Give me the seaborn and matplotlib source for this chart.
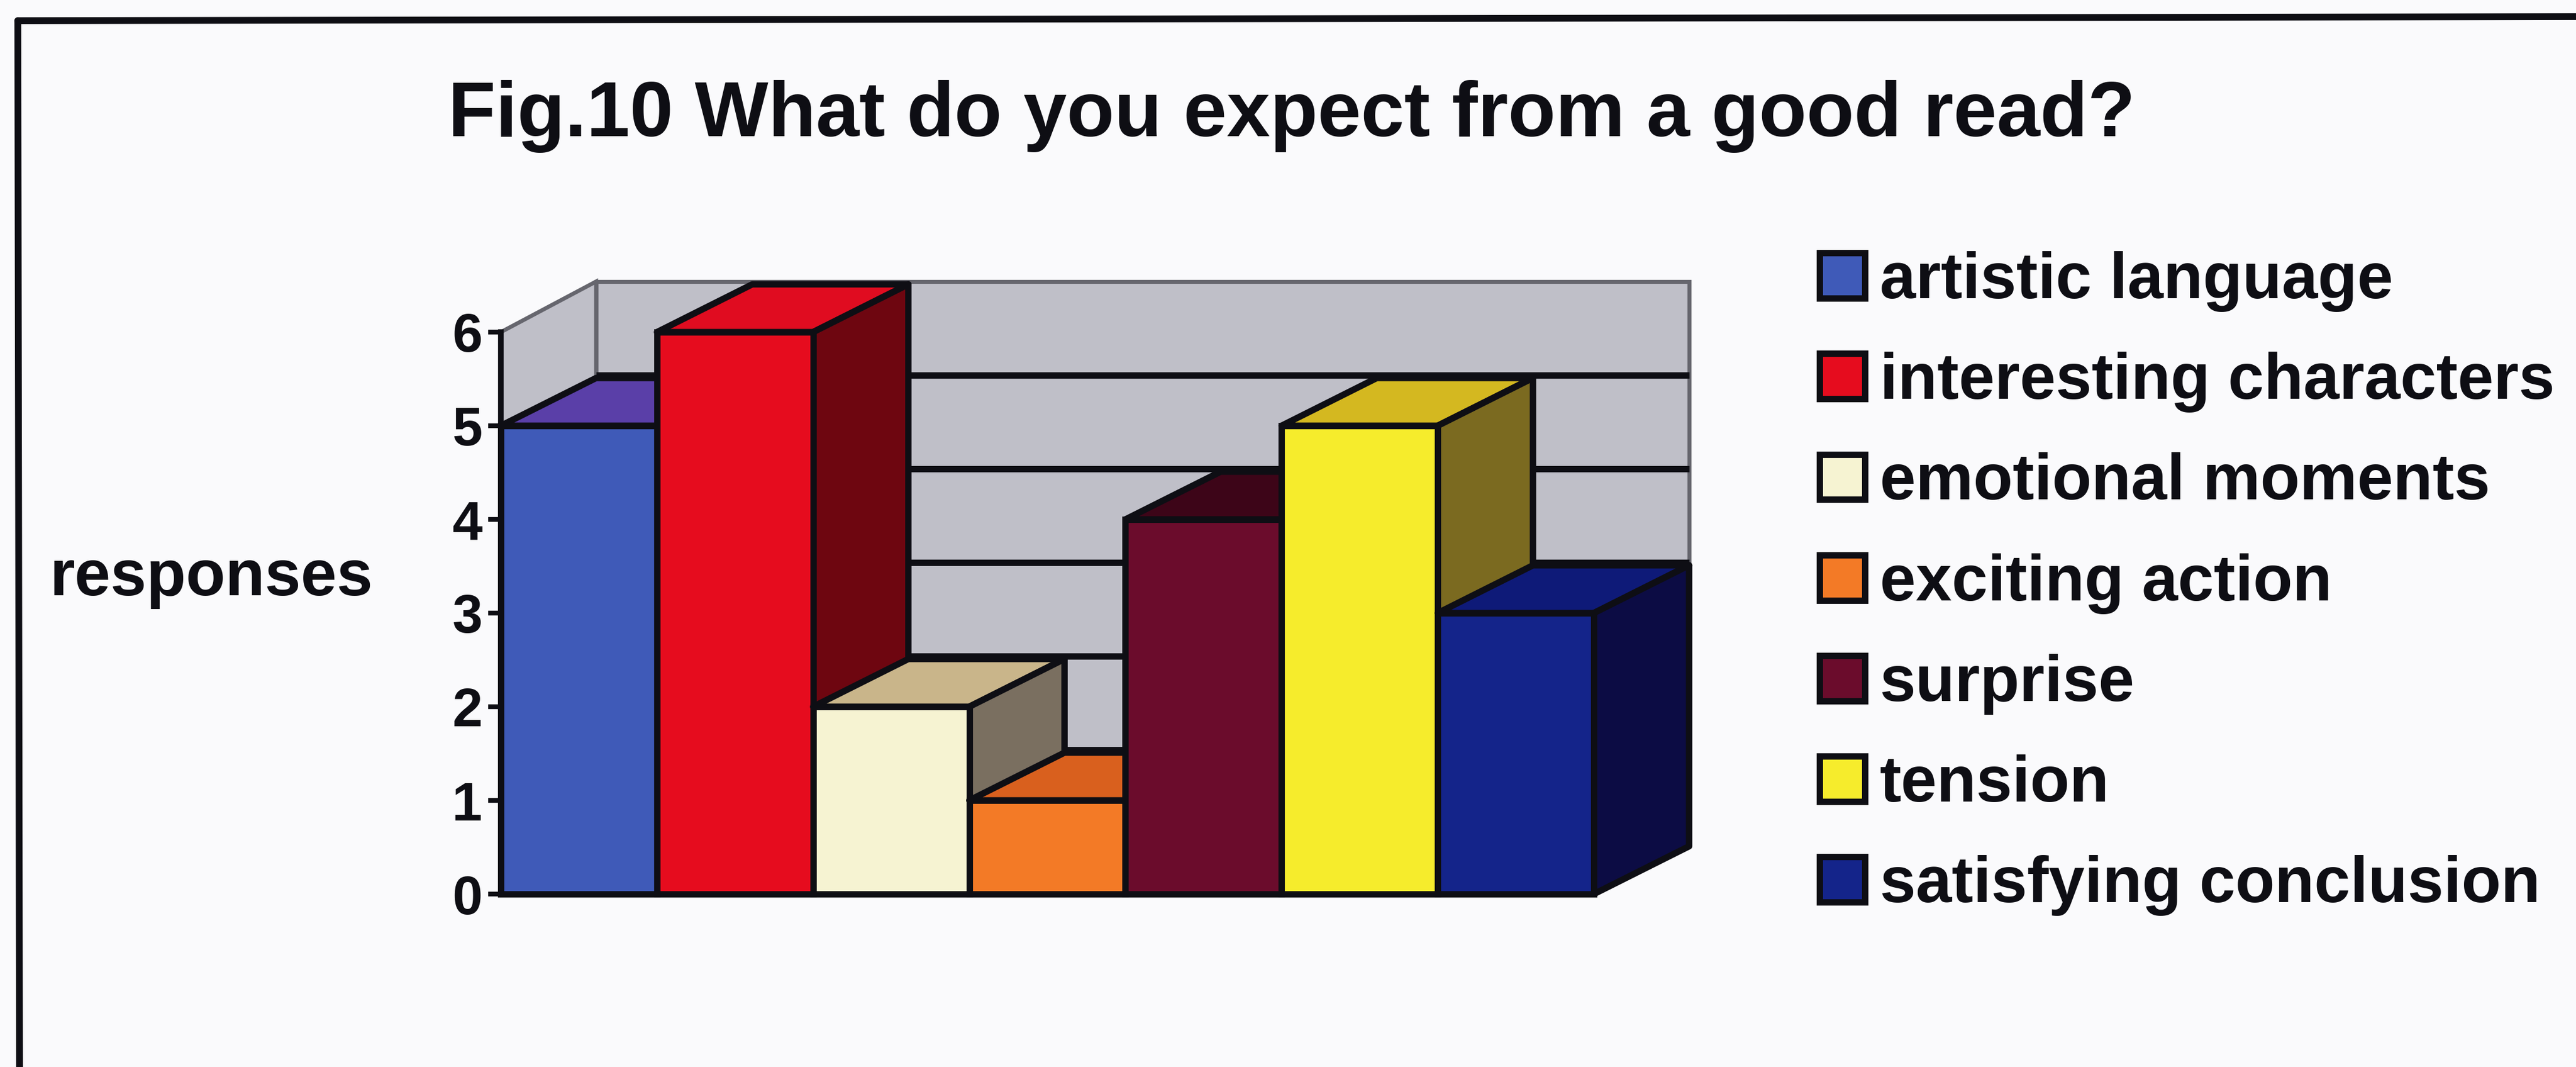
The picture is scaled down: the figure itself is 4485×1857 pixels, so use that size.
import matplotlib
matplotlib.use("Agg")
import matplotlib.pyplot as plt
from matplotlib.patches import Patch, Polygon
import pandas as pd
import seaborn as sns

# Survey responses
categories = ["artistic language", "interesting characters", "emotional moments",
              "exciting action", "surprise", "tension", "satisfying conclusion"]
responses = [5, 6, 2, 1, 4, 5, 3]
y_ticks = [0, 1, 2, 3, 4, 5, 6]
title_text = "Fig.10 What do you expect from a good read?"
y_label = "responses"

# Face colours of each box: front, top, right side
front_colors = ["#3f5ab8", "#e60c1e", "#f6f3d2", "#f37a26", "#6b0c2c", "#f6ec2c", "#14248a"]
top_colors = ["#5a3fa8", "#e00c20", "#c9b58a", "#d9601e", "#3d0518", "#d4b820", "#0e1a78"]
side_colors = ["#2a3070", "#6e0610", "#7a6f60", "#7a3a12", "#3d0518", "#7b6a20", "#0c0c44"]

W, H = 4485, 1857
INK = "#0e0e14"
PAPER = "#fafafc"
WALL = "#bfbfc8"
FRAME = "#66666e"

sns.set_theme(style="white")
plt.rcParams["font.family"] = ["Liberation Sans", "DejaVu Sans"]
plt.rcParams["font.weight"] = "bold"

fig = plt.figure(figsize=(W / 100, H / 100), dpi=100, facecolor=PAPER)
ax = fig.add_axes([872 / W, (H - 1556) / H, (2775 - 872) / W, 978 / H])
ax.set_facecolor("none")

table = pd.DataFrame({"category": categories, "responses": responses})
sns.barplot(data=table, x="category", y="responses", hue="category",
            palette=front_colors, hue_order=categories, order=categories,
            width=1.0, dodge=False, legend=False, saturation=1,
            edgecolor=INK, linewidth=8, ax=ax)
ax.set_xlim(-0.5, 6.5)
ax.set_ylim(0, 6)

# Oblique offset of the depth axis, in data units: walls, then the shallower boxes
dx, wall_dy, box_dy = 0.61, 0.54, 0.51
edge = dict(edgecolor=INK, linewidth=8, joinstyle="round", clip_on=False)

# Walls of the chart box
xl, xr = -0.5, 6.5 + dx
ax.add_patch(Polygon([(xl, 0), (xl + dx, wall_dy), (xl + dx, 6 + wall_dy), (xl, 6)], closed=True,
                     facecolor=WALL, edgecolor=FRAME, linewidth=5, clip_on=False, zorder=1))
ax.add_patch(Polygon([(xl + dx, wall_dy), (xr, wall_dy), (xr, 6 + wall_dy), (xl + dx, 6 + wall_dy)],
                     closed=True, facecolor=WALL, edgecolor=FRAME, linewidth=5,
                     clip_on=False, zorder=1))
for level in y_ticks[1:-1]:
    ax.plot([xl + dx, xr], [level + wall_dy, level + wall_dy], color=INK, lw=8,
            clip_on=False, zorder=2, solid_capstyle="butt")

# Boxes run left to right so each one overlaps its left neighbour
for i, (bar, value) in enumerate(zip(ax.patches, responses)):
    x0, x1 = i - 0.5, i + 0.5
    base = 10 + 3 * i
    ax.add_patch(Polygon([(x0, value), (x0 + dx, value + box_dy), (x1 + dx, value + box_dy), (x1, value)],
                         closed=True, facecolor=top_colors[i], zorder=base, **edge))
    ax.add_patch(Polygon([(x1, 0), (x1 + dx, box_dy), (x1 + dx, value + box_dy), (x1, value)],
                         closed=True, facecolor=side_colors[i], zorder=base + 1, **edge))
    bar.set_zorder(base + 2)
    bar.set_clip_on(False)

# Value axis
for side in ("top", "right", "bottom"):
    ax.spines[side].set_visible(False)
ax.spines["left"].set(color=INK, linewidth=7, zorder=40)
ax.set_xticks([])
ax.set_xlabel("")
ax.set_yticks(y_ticks)
ax.tick_params(axis="y", left=True, length=16, width=6, color=INK, pad=7,
               labelsize=68, labelcolor=INK)
ax.set_ylabel(y_label, rotation=0, fontsize=81, color=INK, ha="left", va="center",
              fontweight="bold")
ax.yaxis.set_label_coords((86 - 872) / (2775 - 872), (1556 - 1007) / 978)

fig.text(2249 / W, 1 - 237 / H, title_text, ha="center", va="baseline",
         fontsize=97.7, fontweight="bold", color=INK)

handles = [Patch(facecolor=c, edgecolor=INK, linewidth=8) for c in front_colors]
fig.legend(handles, categories, loc="upper left", bbox_to_anchor=(3168 / W, 1 - 437 / H),
           frameon=False, fontsize=81, handlelength=0.7, handleheight=0.7,
           handletextpad=0.23, labelspacing=0.615, borderaxespad=0, borderpad=0,
           labelcolor=INK)

# Outer frame of the chart area: only its top and left edges fall inside the sheet
corner = (31 / W, 1 - 36 / H)
fig.add_artist(plt.Line2D([corner[0], 34 / W], [corner[1], 0], color=INK, lw=8.5,
                          transform=fig.transFigure))
fig.add_artist(plt.Line2D([corner[0], 1], [corner[1], 1 - 29 / H], color=INK, lw=8.5,
                          transform=fig.transFigure))

fig.savefig("out.png", dpi=100, facecolor=PAPER)
